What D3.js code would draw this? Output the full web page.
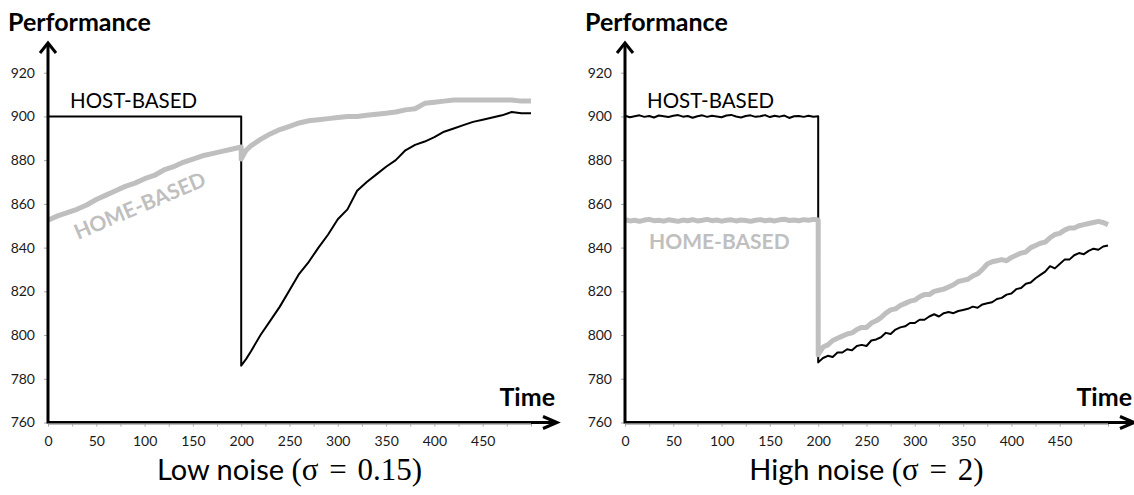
<!DOCTYPE html>
<html lang="en">
  <head>
    <meta charset="UTF-8" />
    <title>Performance over time - host-based vs home-based</title>
    <script src="https://d3js.org/d3.v7.min.js"></script>
    <style>
      body { margin: 0; background: #fff; }
      svg text { font-family: Lato, "Open Sans", sans-serif; }
    </style>
  </head>
  <body>
    <svg id="chart" width="1134" height="495"></svg>

    <script>
      // ---- data ----
      // low noise panel (sigma = 0.15)
      const lowTime = [0, 10, 20, 30, 40, 50, 60, 70, 80, 90, 100, 110, 120, 130, 140, 150, 160, 170, 180, 190, 200,
        200, 205, 210, 220, 230, 240, 250, 260, 270, 280, 290, 300, 310, 320, 330, 340, 350, 360, 370, 380, 390,
        400, 410, 420, 430, 440, 450, 460, 470, 480, 490, 500];
      const lowHost = [900, 900, 900, 900, 900, 900, 900, 900, 900, 900, 900, 900, 900, 900, 900, 900, 900, 900, 900, 900, 900,
        786, 789, 792.5, 800, 806.5, 813, 820.5, 828, 833.5, 840, 846, 853, 857.5, 866, 870, 873.5, 877, 880, 884.5, 887, 888.5,
        890.5, 893, 894.5, 896, 897.5, 898.5, 899.5, 900.5, 902, 901.5, 901.5];
      const lowHome = [852.5, 854.5, 856, 857.5, 859.5, 862, 864, 866, 868, 869.5, 871.5, 873, 875.5, 877, 879, 880.5, 882, 883, 884, 885, 886,
        880.5, 884.5, 886.5, 889.5, 892, 894, 895.5, 897, 898, 898.5, 899, 899.5, 900, 900, 900.5, 901, 901.5, 902, 903, 903.5, 906,
        906.5, 907, 907.5, 907.5, 907.5, 907.5, 907.5, 907.5, 907.5, 907, 907];

      // high noise panel (sigma = 2), sampled every 5 time units, switch at t = 200
      const highTime = d3.range(0, 201, 5).concat(d3.range(200, 501, 5));
      const highHost = [900.3, 899.6, 900.1, 900.5, 899.8, 900.2, 899.5, 900.4, 900.1, 899.7, 900.3, 900.6, 899.9, 900.2, 899.4,
        900.1, 900.5, 899.8, 900.3, 900.0, 899.6, 900.4, 900.7, 900.0, 899.5, 900.2, 900.5, 899.8, 900.1, 900.6, 899.7, 900.3,
        899.9, 900.4, 899.3, 900.1, 900.2, 899.8, 900.3, 899.9, 900.1,
        787.5, 789.5, 790.5, 790, 792, 792, 793.5, 793, 795, 795.5, 795, 797.5, 798, 799, 801, 800.5, 802.5, 803.5, 804,
        805.5, 805.5, 807, 807, 808.5, 809.5, 808.5, 810, 810.5, 810, 811, 811.5, 812, 813, 812.5, 814, 814.5, 815, 816.5,
        817, 818.5, 819, 821, 821.5, 823.5, 824, 826, 827.5, 829, 831.5, 830.5, 832.5, 834.5, 834.5, 836.5, 837.5, 837,
        838.5, 839.5, 839, 840.5, 841];
      const highHome = [852.8, 852.2, 852.5, 852.0, 852.6, 852.9, 852.3, 852.5, 852.1, 852.7, 852.4, 852.0, 852.6, 852.3, 852.8,
        852.2, 852.5, 852.9, 852.3, 852.6, 852.1, 852.5, 852.7, 852.2, 852.6, 852.4, 852.0, 852.5, 852.8, 852.3, 852.6, 852.2,
        852.7, 853.0, 852.4, 852.6, 852.3, 852.8, 852.5, 852.9, 852.6,
        791, 794.5, 795.5, 797.5, 798.5, 799.5, 800.5, 801, 802.5, 803.5, 803.5, 805.5, 806.5, 808, 810, 811.5, 812, 813.5, 814.5,
        815.5, 816, 817.5, 818.5, 818.5, 820, 820.5, 821, 822, 823, 824.5, 825, 825.5, 827, 828, 830, 832.5, 833.5, 834,
        834.5, 834, 835.5, 836.5, 837.5, 838, 840, 841, 842, 842.5, 844.5, 846, 846.5, 848, 849, 849, 850, 850.5, 851,
        851.5, 852, 851.5, 850.5];

      const yTicks = [760, 780, 800, 820, 840, 860, 880, 900, 920];
      const xTicks = d3.range(0, 501, 25);

      const panels = [
        { dx: 0, time: lowTime, host: lowHost, home: lowHome, caption: "Low noise ", math: "(\u03c3 = 0.15)",
          homeLabel: { x: 78, y: 240, rot: -23 } },
        { dx: 577, time: highTime, host: highHost, home: highHome, caption: "High noise ", math: "(\u03c3 = 2)",
          homeLabel: { x: 649, y: 249, rot: 0 } }
      ];

      const svg = d3.select("#chart");

      panels.forEach((p) => {
        const x0 = 48 + p.dx;
        const x = d3.scaleLinear().domain([0, 500]).range([x0, x0 + 483]);
        const y = d3.scaleLinear().domain([760, 920]).range([422.5, 72.7]);
        const g = svg.append("g");

        // axes (ticks and labels only, lines drawn below as arrows)
        const yAxis = g.append("g")
          .attr("transform", `translate(${x0},0)`)
          .call(d3.axisLeft(y).tickValues(yTicks).tickSize(4).tickPadding(9));
        const xAxis = g.append("g")
          .attr("transform", `translate(0,${y(760)})`)
          .call(d3.axisBottom(x).tickValues(xTicks).tickSize(4).tickPadding(10)
            .tickFormat((d) => (d % 50 === 0 && d < 500 ? d : "")));
        [yAxis, xAxis].forEach((a) => {
          a.select(".domain").remove();
          a.selectAll(".tick line").attr("stroke", "#a6a6a6");
          a.selectAll(".tick text").attr("fill", "#1a1a1a").style("font-size", "14px");
        });

        // lines
        const line = d3.line().x((d) => x(d[0])).y((d) => y(d[1]));
        g.append("path")
          .datum(p.time.map((t, i) => [t, p.host[i]]))
          .attr("fill", "none")
          .attr("stroke", "#000")
          .attr("stroke-width", 2)
          .attr("stroke-linejoin", "round")
          .attr("d", line);
        g.append("path")
          .datum(p.time.map((t, i) => [t, p.home[i]]))
          .attr("fill", "none")
          .attr("stroke", "#bfbfbf")
          .attr("stroke-width", 5)
          .attr("stroke-linejoin", "round")
          .attr("d", line);

        // axis arrows
        const ax = g.append("g").attr("fill", "none").attr("stroke", "#000").attr("stroke-width", 3);
        ax.append("line").attr("x1", x0).attr("x2", x0).attr("y1", y(760) + 1).attr("y2", 43);
        ax.append("path").attr("d", `M${x0 - 8},53 L${x0},43 L${x0 + 8},53`);
        g.append("line").attr("x1", x0).attr("x2", x(500)).attr("y1", y(760) + 1.5).attr("y2", y(760) + 1.5)
          .attr("stroke", "#a6a6a6").attr("stroke-width", 1.5);
        ax.append("line").attr("x1", x0).attr("x2", x0 + 508).attr("y1", y(760)).attr("y2", y(760));
        ax.append("path").attr("d", `M${x0 + 495},${y(760) - 6} L${x0 + 509},${y(760)} L${x0 + 495},${y(760) + 6}`);

        // titles
        g.append("text").attr("x", 8 + p.dx).attr("y", 31)
          .style("font-size", "25px").style("font-weight", "bold").text("Performance");
        g.append("text").attr("x", x0 + 507).attr("y", 406).attr("text-anchor", "end")
          .style("font-size", "25px").style("font-weight", "bold").text("Time");

        // series labels
        g.append("text").attr("x", 70 + p.dx).attr("y", 108)
          .style("font-size", "20.5px").text("HOST-BASED");
        g.append("text")
          .attr("transform", `translate(${p.homeLabel.x},${p.homeLabel.y}) rotate(${p.homeLabel.rot})`)
          .attr("fill", "#bfbfbf")
          .style("font-size", "21px").style("font-weight", "bold").text("HOME-BASED");

        // caption
        const cap = g.append("text").attr("x", x(250)).attr("y", 480).attr("text-anchor", "middle")
          .attr("fill", "#000");
        cap.append("tspan").style("font-size", "29px").text(p.caption);
        cap.append("tspan").style("font-family", "'Liberation Serif', serif").style("font-size", "31px")
          .attr("word-spacing", "3px").text(p.math);
      });
    </script>
  </body>
</html>
